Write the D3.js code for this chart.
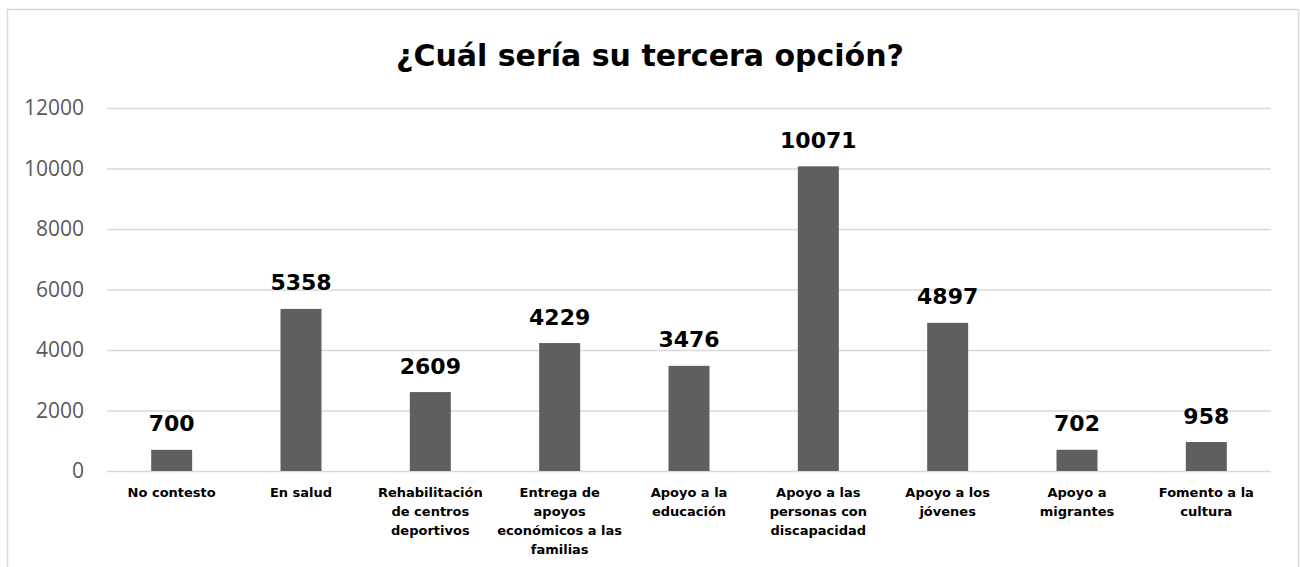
<!DOCTYPE html>
<html>
<head>
<meta charset="utf-8">
<script src="https://cdn.jsdelivr.net/npm/d3@7"></script>
<style>
  body { margin: 0; background: #fff; }
</style>
</head>
<body>
<div class="chart-holder"></div>
<script>
// chart data
const categories = [
  "No contesto",
  "En salud",
  "Rehabilitación\nde centros\ndeportivos",
  "Entrega de\napoyos\neconómicos a las\nfamilias",
  "Apoyo a la\neducación",
  "Apoyo a las\npersonas con\ndiscapacidad",
  "Apoyo a los\njóvenes",
  "Apoyo a\nmigrantes",
  "Fomento a la\ncultura"
];
const values = [700, 5358, 2609, 4229, 3476, 10071, 4897, 702, 958];
const yTicks = [0, 2000, 4000, 6000, 8000, 10000, 12000];
const title = "¿Cuál sería su tercera opción?";

const width = 1300;
const height = 567;
const margin = { top: 108, right: 29, bottom: 96, left: 107 };

const svg = d3.select(".chart-holder")
  .append("svg")
  .attr("width", width)
  .attr("height", height);

// outer chart border (bottom edge falls outside the picture)
svg.append("rect")
  .attr("x", 7.5)
  .attr("y", 9.5)
  .attr("width", 1291)
  .attr("height", 600)
  .attr("fill", "#fff")
  .attr("stroke", "#d9d9d9")
  .attr("stroke-width", 1.5);

svg.append("text")
  .attr("x", 650)
  .attr("y", 66)
  .attr("text-anchor", "middle")
  .attr("font-family", "DejaVu Sans")
  .attr("font-weight", "bold")
  .attr("font-size", 30)
  .attr("fill", "#000")
  .text(title);

const x = d3.scaleBand()
  .domain(categories)
  .range([margin.left, width - margin.right])
  .paddingInner(0.683)
  .paddingOuter(0.3415);

const y = d3.scaleLinear()
  .domain([0, 12000])
  .range([height - margin.bottom, margin.top]);

// gridlines + y labels
const yAxis = svg.append("g")
  .attr("transform", `translate(${margin.left},0)`)
  .call(d3.axisLeft(y)
    .tickValues(yTicks)
    .tickFormat(d3.format("d"))
    .tickSize(-(width - margin.left - margin.right))
    .tickPadding(23));
yAxis.select(".domain").remove();
yAxis.selectAll(".tick line").attr("stroke", "#d9d9d9").attr("stroke-width", 1.5);
yAxis.selectAll(".tick text")
  .attr("font-family", "Open Sans")
  .attr("font-size", 21)
  .attr("fill", "#595959");

// bars
svg.append("g")
  .selectAll("rect")
  .data(values)
  .join("rect")
  .attr("x", (d, i) => x(categories[i]))
  .attr("y", d => y(d))
  .attr("width", x.bandwidth())
  .attr("height", d => y(0) - y(d))
  .attr("fill", "#5f5f5f");

// data labels
svg.append("g")
  .selectAll("text")
  .data(values)
  .join("text")
  .attr("x", (d, i) => x(categories[i]) + x.bandwidth() / 2)
  .attr("y", d => y(d) - 18.5)
  .attr("text-anchor", "middle")
  .attr("font-family", "DejaVu Sans")
  .attr("font-weight", "bold")
  .attr("font-size", 22)
  .attr("fill", "#000")
  .text(d => d);

// category labels
const xAxis = svg.append("g")
  .attr("transform", `translate(0,${height - margin.bottom})`)
  .call(d3.axisBottom(x).tickSize(0).tickFormat(""));
xAxis.select(".domain").remove();
xAxis.selectAll(".tick").each(function(d) {
  const t = d3.select(this).append("text")
    .attr("text-anchor", "middle")
    .attr("font-family", "DejaVu Sans")
    .attr("font-weight", "bold")
    .attr("font-size", 13)
    .attr("fill", "#000");
  d.split("\n").forEach((line, i) => {
    t.append("tspan").attr("x", 0).attr("y", 26 + i * 19).text(line);
  });
});
</script>
</body>
</html>
